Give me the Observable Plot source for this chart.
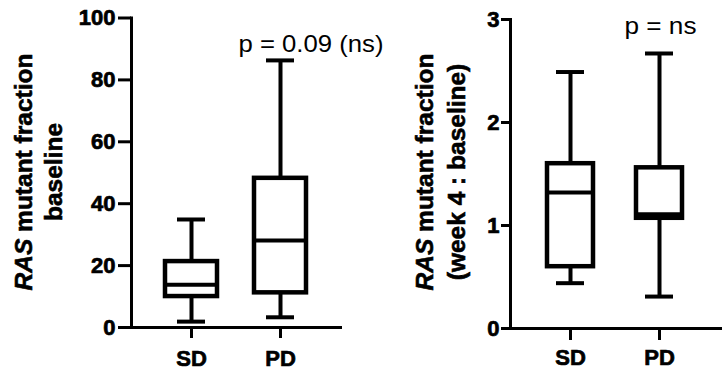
<!DOCTYPE html>
<html>
<head>
<meta charset="utf-8">
<script src="https://cdn.jsdelivr.net/npm/d3@7"></script>
<script src="https://cdn.jsdelivr.net/npm/@observablehq/plot@0.6"></script>
<style>
  html, body { margin: 0; padding: 0; background: #fff; }
  #wrap { display: flex; flex-direction: row; width: 722px; height: 379px; overflow: hidden; }
  svg { font-family: "Liberation Sans", Arial, sans-serif; }
</style>
</head>
<body>
<div id="wrap"></div>
<script>
const groups = ["SD", "PD"];

// Left panel: RAS mutant fraction at baseline
const baselineMin    = [1.9, 3.3];
const baselineQ1     = [10.0, 11.2];
const baselineMedian = [13.8, 28.1];
const baselineQ3     = [21.3, 48.2];
const baselineMax    = [34.9, 86.3];
const baselineTicks  = [0, 20, 40, 60, 80, 100];
const baselinePLabel = "p = 0.09 (ns)";

// Right panel: week 4 : baseline ratio
const ratioMin    = [0.44, 0.31];
const ratioQ1     = [0.60, 1.07];
const ratioMedian = [1.32, 1.11];
const ratioQ3     = [1.60, 1.56];
const ratioMax    = [2.49, 2.67];
const ratioTicks  = [0, 1, 2, 3];
const ratioPLabel = "p = ns";

function rows(mins, q1s, meds, q3s, maxs) {
  return groups.map((g, i) => ({group: g, min: mins[i], q1: q1s[i], median: meds[i], q3: q3s[i], max: maxs[i]}));
}

function boxChart(cfg) {
  const data = rows(...cfg.values);
  const svg = Plot.plot({
    width: cfg.width,
    height: 379,
    marginLeft: cfg.ml,
    marginRight: cfg.mr,
    marginTop: cfg.mt,
    marginBottom: cfg.mb,
    style: {fontFamily: '"Liberation Sans", Arial, sans-serif', background: "white", overflow: "visible", color: "black"},
    x: {domain: groups, paddingInner: cfg.pi, paddingOuter: cfg.po, label: null},
    y: {domain: cfg.domain, label: null},
    marks: [
      Plot.ruleX(data, {x: "group", y1: "min", y2: "max", stroke: "black", strokeWidth: 4}),
      Plot.barY(data, {x: "group", y1: "q1", y2: "q3", fill: "white", stroke: "black", strokeWidth: 4.5}),
      Plot.tickY(data, {x: "group", y: "median", stroke: "black", strokeWidth: 4}),
      Plot.tickY(data, {x: "group", y: "max", stroke: "black", strokeWidth: 4, inset: cfg.capInset}),
      Plot.tickY(data, {x: "group", y: "min", stroke: "black", strokeWidth: 4, inset: cfg.capInset}),
      Plot.axisY({ticks: cfg.ticks, tickFormat: d => String(d), tickSize: cfg.yTickSize, tickPadding: cfg.yTickPad,
                  label: null}),
      Plot.axisX({tickSize: cfg.xTickSize, tickPadding: cfg.xTickPad, label: null}),
      Plot.frame({anchor: "left", stroke: "black", strokeWidth: 3}),
      Plot.frame({anchor: "bottom", stroke: "black", strokeWidth: 3}),
      Plot.text([cfg.pLabel], {text: d => d, frameAnchor: "top-left", textAnchor: "start", lineAnchor: "bottom",
                  dx: cfg.pdx, dy: cfg.pdy, fill: "black", className: "plabel"})
    ]
  });
  const s = d3.select(svg);
  s.selectAll('g[aria-label$="-axis tick"]').attr("stroke-width", 3).attr("stroke", "black");
  s.selectAll('g[aria-label$="-axis tick label"]')
    .attr("fill", "black").attr("font-size", 22).attr("font-weight", "bold")
    .style("font-size", "22px").style("font-weight", "bold");
  s.selectAll('g[aria-label$="-axis tick label"] text')
    .style("font-size", "22px").style("font-weight", "bold")
    .style("stroke", "black").style("stroke-width", "0.7px");
  s.selectAll(".plabel, .plabel text")
    .style("font-weight", "normal").style("font-size", "24px");
  s.selectAll(".plabel text").attr("textLength", cfg.pLen).attr("lengthAdjust", "spacingAndGlyphs");
  cfg.yLabel.forEach((line) => {
    const t = s.append("text")
      .attr("transform", `translate(${line.x},${cfg.labelY}) rotate(-90)`)
      .attr("text-anchor", "middle")
      .style("font-size", cfg.labelSize + "px")
      .style("font-weight", "bold")
      .style("stroke", "black").style("stroke-width", "0.6px")
      .attr("fill", "black");
    line.parts.forEach(p => t.append("tspan").style("font-style", p.italic ? "italic" : "normal").text(p.text));
  });
  return svg;
}

const wrap = document.getElementById("wrap");
wrap.appendChild(boxChart({
  width: 395, ml: 131, mr: 55, mt: 17.5, mb: 52,
  pi: 0.416, po: 0.382, domain: [0, 100], ticks: baselineTicks,
  values: [baselineMin, baselineQ1, baselineMedian, baselineQ3, baselineMax],
  capInset: 12, yTickSize: 13, yTickPad: 3, xTickSize: 11, xTickPad: 12,
  pLabel: baselinePLabel, pdx: 107, pdy: 34, pLen: 145,
  labelY: 172, labelSize: 24.5,
  yLabel: [
    {x: 32, parts: [{text: "RAS", italic: true}, {text: " mutant fraction"}]},
    {x: 62, parts: [{text: "baseline"}]}
  ]
}));
wrap.appendChild(boxChart({
  width: 327, ml: 115, mr: 2, mt: 19, mb: 51,
  pi: 0.483, po: 0.42, domain: [0, 3], ticks: ratioTicks,
  values: [ratioMin, ratioQ1, ratioMedian, ratioQ3, ratioMax],
  capInset: 9, yTickSize: 9, yTickPad: 2, xTickSize: 12, xTickPad: 9,
  pLabel: ratioPLabel, pdx: 114, pdy: 14, pLen: 72,
  labelY: 172, labelSize: 24.5,
  yLabel: [
    {x: 38, parts: [{text: "RAS", italic: true}, {text: " mutant fraction"}]},
    {x: 70, parts: [{text: "(week 4 : baseline)"}]}
  ]
}));
</script>
</body>
</html>
